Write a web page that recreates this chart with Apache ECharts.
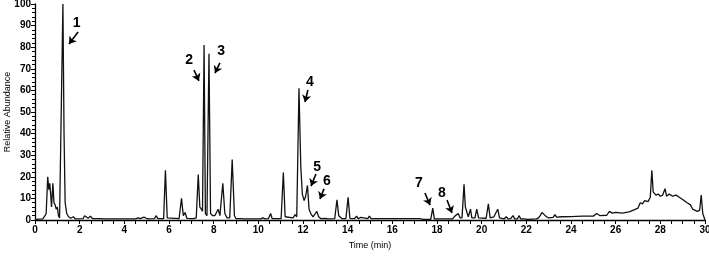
<!DOCTYPE html>
<html>
<head>
<meta charset="utf-8">
<script src="https://cdn.jsdelivr.net/npm/echarts@6/dist/echarts.min.js"></script>
<style>
  html, body { margin: 0; padding: 0; background: #fff; }
  #chart { width: 709px; height: 256px; }
</style>
</head>
<body>
<div id="chart"></div>
<script>
// chromatogram trace, [time (min), relative abundance]
var trace = [
  [0, 0.3], [0.35, 0.5], [0.45, 2], [0.5, 3], [0.57, 20], [0.62, 14], [0.66, 17], [0.7, 12], [0.74, 6],
  [0.8, 17], [0.85, 8], [0.9, 7], [0.95, 5], [1.0, 6], [1.05, 2], [1.1, 1], [1.18, 1], [1.25, 100],
  [1.3, 40], [1.35, 8], [1.42, 3], [1.5, 1.5], [1.6, 0.8], [1.72, 1.5], [1.8, 0.5], [2.15, 0.6],
  [2.22, 2], [2.3, 1.5], [2.38, 0.8], [2.48, 1.8], [2.58, 0.6], [2.95, 0.6], [3.0, 1], [3.05, 0.5],
  [4.5, 0.5], [4.62, 1], [4.72, 0.6], [4.88, 1.3], [4.98, 0.8], [5.1, 0.5], [5.35, 0.6], [5.42, 2],
  [5.5, 0.6], [5.76, 0.6], [5.84, 23], [5.92, 1], [6.45, 0.6], [6.56, 10], [6.64, 2], [6.72, 3.5],
  [6.8, 0.8], [7.0, 0.6], [7.05, 1.2], [7.1, 0.6], [7.22, 1], [7.31, 21], [7.38, 6], [7.45, 5],
  [7.5, 4], [7.57, 81], [7.63, 3], [7.7, 2], [7.79, 77], [7.86, 3], [7.95, 2], [8.05, 2], [8.2, 5],
  [8.28, 2], [8.33, 2], [8.41, 17], [8.5, 3], [8.6, 1], [8.72, 1], [8.83, 28], [8.93, 2], [9.0, 0.6],
  [9.2, 0.6], [9.28, 1.5], [9.35, 0.5], [10.1, 0.5], [10.2, 1], [10.3, 0.5], [10.45, 0.6], [10.55, 3],
  [10.62, 0.6], [11.02, 0.6], [11.12, 22], [11.2, 1.5], [11.55, 1], [11.65, 2.5], [11.72, 1.5],
  [11.82, 61], [11.9, 25], [11.97, 12], [12.05, 9], [12.12, 11], [12.2, 16], [12.27, 5], [12.35, 3],
  [12.45, 1.5], [12.55, 3], [12.62, 4], [12.7, 1.5], [12.8, 0.6], [13.0, 0.8], [13.1, 0.5],
  [13.42, 0.6], [13.52, 9.3], [13.6, 2], [13.67, 2.2], [13.75, 0.6], [13.92, 0.6], [14.02, 10.5],
  [14.1, 0.8], [14.3, 0.6], [14.4, 1.8], [14.47, 0.6], [14.6, 1.2], [14.68, 0.6], [14.9, 0.6],
  [14.97, 1.8], [15.05, 0.6], [17.2, 0.6], [17.4, 0.3], [17.72, 0.3], [17.81, 5.5], [17.88, 0.5],
  [18.7, 0.5], [18.8, 1.8], [18.87, 1.2], [18.95, 3], [19.03, 1], [19.12, 1], [19.21, 16.5],
  [19.27, 6], [19.33, 6], [19.4, 1.5], [19.5, 5], [19.56, 1], [19.7, 1], [19.78, 5], [19.86, 1],
  [20.2, 0.8], [20.3, 7.5], [20.38, 1], [20.55, 1.5], [20.62, 3], [20.72, 5], [20.8, 1], [21.0, 0.5],
  [21.1, 1.5], [21.18, 0.5], [21.3, 0.6], [21.4, 2], [21.48, 0.5], [21.6, 0.5], [21.67, 2],
  [21.75, 0.5], [21.9, 0.5], [21.97, 1], [22.05, 0.3], [22.45, 0.5], [22.55, 1], [22.62, 2],
  [22.7, 3.5], [22.8, 2.5], [22.9, 1.5], [23.0, 1], [23.2, 1.2], [23.28, 2.5], [23.35, 1.3],
  [23.6, 1.5], [24.0, 1.6], [24.5, 1.8], [25.0, 1.8], [25.15, 3], [25.3, 2], [25.6, 2.2],
  [25.72, 4], [25.85, 3.2], [26.0, 3.5], [26.3, 3.2], [26.6, 3.8], [26.85, 4.8], [27.0, 5.5],
  [27.1, 8], [27.2, 7.5], [27.3, 9], [27.45, 8.5], [27.55, 10.5], [27.62, 23], [27.68, 13],
  [27.8, 11.5], [27.9, 12], [28.0, 11], [28.1, 11.5], [28.21, 14.5], [28.28, 11], [28.4, 12],
  [28.55, 11], [28.7, 11.5], [28.85, 10.5], [29.0, 9.5], [29.2, 8], [29.35, 7], [29.45, 5],
  [29.65, 4], [29.76, 4.5], [29.83, 11.5], [29.9, 3], [30, 0]
];

// peak annotations: label position and arrow [from, to], in data coordinates
var peakLabels = ['1', '2', '3', '4', '5', '6', '7', '8'];
var labelPos = [[1.87, 91], [6.9, 74], [8.33, 78], [12.31, 64], [12.63, 24.5], [13.07, 18], [17.19, 17], [18.22, 12.5]];
var arrowFrom = [[1.93, 87], [7.12, 69.4], [8.28, 72.7], [12.22, 60.2], [12.58, 21.3], [12.94, 14.4], [17.46, 12.5], [18.45, 9.3]];
var arrowTo = [[1.52, 81.5], [7.34, 64.4], [8.06, 68], [12.09, 54.6], [12.36, 15.7], [12.76, 9.7], [17.69, 6.9], [18.67, 3.2]];

var chart = echarts.init(document.getElementById('chart'));

var font = 'Liberation Sans, Arial, sans-serif';

var arrows = [];
for (var i = 0; i < arrowFrom.length; i++) {
  arrows.push([{ coord: arrowFrom[i] }, { coord: arrowTo[i] }]);
}

var labelData = [];
for (var j = 0; j < peakLabels.length; j++) {
  labelData.push({ name: peakLabels[j], value: labelPos[j] });
}

var option = {
  animation: false,
  grid: { left: 35, right: 4, top: 4, bottom: 36, containLabel: false, outerBoundsMode: 'none' },
  xAxis: {
    type: 'value',
    min: 0,
    max: 30,
    interval: 2,
    name: 'Time (min)',
    nameLocation: 'middle',
    nameGap: 21,
    nameMoveOverlap: false,
    nameTextStyle: { fontFamily: font, fontSize: 9, color: '#000' },
    axisLine: { lineStyle: { color: '#000', width: 1.3 } },
    axisTick: { length: 4, lineStyle: { color: '#000', width: 1 } },
    minorTick: { show: true, splitNumber: 4, length: 4, lineStyle: { color: '#000' } },
    axisLabel: { fontFamily: font, fontSize: 10, fontWeight: 'bold', color: '#000', margin: 5 },
    splitLine: { show: false }
  },
  yAxis: {
    type: 'value',
    min: 0,
    max: 100,
    interval: 10,
    name: 'Relative Abundance',
    nameLocation: 'middle',
    nameGap: 23,
    nameMoveOverlap: false,
    nameTextStyle: { fontFamily: font, fontSize: 9, color: '#000' },
    axisLine: { show: true, lineStyle: { color: '#000', width: 1.3 } },
    axisTick: { show: true, length: 4, lineStyle: { color: '#000' } },
    minorTick: { show: true, splitNumber: 5, length: 3, lineStyle: { color: '#000' } },
    axisLabel: { fontFamily: font, fontSize: 10, fontWeight: 'bold', color: '#000', margin: 4 },
    splitLine: { show: false }
  },
  series: [
    {
      type: 'line',
      data: trace,
      showSymbol: false,
      sampling: 'none',
      lineStyle: { color: '#111', width: 1.3 },
      markLine: {
        silent: true,
        symbol: ['none', 'arrow'],
        symbolSize: 7,
        label: { show: false },
        lineStyle: { color: '#000', width: 1.6, type: 'solid', opacity: 1 },
        data: arrows
      }
    },
    {
      type: 'scatter',
      data: labelData,
      symbolSize: 0,
      silent: true,
      itemStyle: { opacity: 1, color: '#000' },
      label: {
        show: true,
        position: 'inside',
        formatter: '{b}',
        fontFamily: font,
        fontSize: 14,
        fontWeight: 'bold',
        color: '#000',
        opacity: 1
      }
    }
  ]
};

chart.setOption(option);
</script>
</body>
</html>
